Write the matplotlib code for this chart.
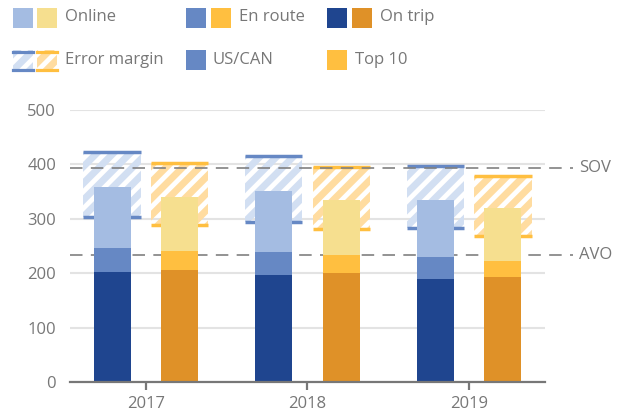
import numpy as np
import matplotlib
matplotlib.use("Agg")
import matplotlib.pyplot as plt
from matplotlib.patches import Rectangle

plt.rcParams['font.family'] = ['Open Sans', 'DejaVu Sans']
plt.rcParams['hatch.linewidth'] = 5
plt.rcParams['lines.scale_dashes'] = False

years = ['2017', '2018', '2019']

# segment values (stacked bottom -> top)
us_on_trip = [202, 197, 189]
us_en_route = [44, 42, 41]
us_online = [112, 112, 104]
top_on_trip = [206, 200, 193]
top_en_route = [35, 33, 29]
top_online = [99, 101, 98]

# error margins (low, high)
us_err_low = [303, 295, 284]
us_err_high = [423, 415, 397]
top_err_low = [288, 282, 269]
top_err_high = [402, 395, 379]

ref_values = [393, 233]
ref_labels = ['SOV', 'AVO']

txt = '#777777'
blue = ['#1f458f', '#6688c4', '#a4bce2']
orange = ['#df9128', '#ffbf40', '#f6df8f']
blue_hatch = '#d2dff2'
orange_hatch = '#ffdca0'

fig = plt.figure(figsize=(6.21, 4.17), dpi=100)
ax = fig.add_axes([70/621, 35/417, 475/621, 272/417])

x = np.arange(len(years))
off = 0.21
bw = 0.229
ew = 0.353


def stack(xpos, segs, cols):
    bottom = np.zeros(len(xpos))
    for s, c in zip(segs, cols):
        ax.bar(xpos, s, bw, bottom=bottom, color=c, linewidth=0, zorder=4)
        bottom += np.array(s)


def err_box(xpos, lo, hi, hcol, lcol):
    lo = np.array(lo); hi = np.array(hi)
    ax.bar(xpos, hi - lo, ew, bottom=lo, facecolor='none', edgecolor=hcol,
           hatch='//', linewidth=0, zorder=2)
    ax.hlines(lo, xpos - ew/2, xpos + ew/2, color=lcol, lw=2.5, zorder=3)
    ax.hlines(hi, xpos - ew/2, xpos + ew/2, color=lcol, lw=2.5, zorder=3)


err_box(x - off, us_err_low, us_err_high, blue_hatch, blue[1])
err_box(x + off, top_err_low, top_err_high, orange_hatch, orange[1])
stack(x - off, [us_on_trip, us_en_route, us_online], blue)
stack(x + off, [top_on_trip, top_en_route, top_online], orange)

tr = ax.get_yaxis_transform()
for v, lab in zip(ref_values, ref_labels):
    ax.plot([0, 1.06], [v, v], transform=tr, color='#808080', lw=1.2,
            linestyle=(0, (9, 6)), clip_on=False, zorder=3)
    ax.text(1.072, v, lab, transform=tr, color=txt, fontsize=12,
            va='center', ha='left')

ax.set_xlim(-0.47, 2.47)
ax.set_ylim(0, 500)
ax.set_yticks([0, 100, 200, 300, 400, 500])
ax.set_xticks(x)
ax.set_xticklabels(years)
ax.grid(axis='y', color='#e3e3e3', lw=1.5, zorder=0)
ax.set_axisbelow(True)
for s in ['top', 'right', 'left']:
    ax.spines[s].set_visible(False)
ax.spines['bottom'].set_color('#777777')
ax.spines['bottom'].set_linewidth(1.6)
ax.spines['bottom'].set_zorder(5)
ax.tick_params(axis='y', length=0, pad=10, labelcolor=txt, labelsize=12)
ax.tick_params(axis='x', length=6, width=1.6, color='#777777', pad=4,
               labelcolor=txt, labelsize=12)

# legend drawn in figure pixel space
lg = fig.add_axes([0, 0, 1, 1], zorder=10)
lg.set_xlim(0, 621)
lg.set_ylim(417, 0)
lg.axis('off')
lg.patch.set_visible(False)


def sw(x0, y0, col, **kw):
    lg.add_patch(Rectangle((x0, y0), 20, 20, facecolor=col, linewidth=0, **kw))


sw(13, 8, blue[2]); sw(37, 8, orange[2])
lg.text(65, 17, 'Online', color=txt, fontsize=12, va='center')
sw(186, 8, blue[1]); sw(211, 8, orange[1])
lg.text(239, 17, 'En route', color=txt, fontsize=12, va='center')
sw(327, 8, blue[0]); sw(352, 8, orange[0])
lg.text(380, 17, 'On trip', color=txt, fontsize=12, va='center')

for x0, hc, lc in [(13, blue_hatch, blue[1]), (37, orange_hatch, orange[1])]:
    lg.add_patch(Rectangle((x0, 50), 20, 21, facecolor='none', edgecolor=hc,
                           hatch='//', linewidth=0))
    lg.plot([x0, x0 + 20], [51.5, 51.5], color=lc, lw=2.3)
    lg.plot([x0, x0 + 20], [69.5, 69.5], color=lc, lw=2.3)
lg.text(65, 60, 'Error margin', color=txt, fontsize=12, va='center')
sw(186, 50, blue[1])
lg.text(213, 60, 'US/CAN', color=txt, fontsize=12, va='center')
sw(327, 50, orange[1])
lg.text(355, 60, 'Top 10', color=txt, fontsize=12, va='center')

fig.savefig('out.png', dpi=100)
